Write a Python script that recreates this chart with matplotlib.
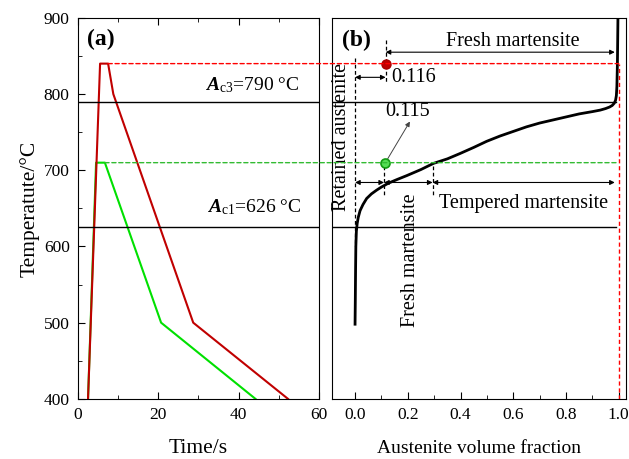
import matplotlib
matplotlib.use("Agg")
import matplotlib.pyplot as plt
from matplotlib.patches import ConnectionPatch
from matplotlib.ticker import MultipleLocator

plt.rcParams['font.family'] = ['Liberation Serif', 'DejaVu Serif']
plt.rcParams['mathtext.fontset'] = 'custom'
plt.rcParams['mathtext.rm'] = 'Liberation Serif'
plt.rcParams['mathtext.it'] = 'Liberation Serif:italic'
plt.rcParams['mathtext.bf'] = 'Liberation Serif:bold'
plt.rcParams['mathtext.bfit'] = 'Liberation Serif:bold:italic'

# (a) heat treatment paths: time (s) vs temperature (C)
red_t = [2.5, 5.5, 7.5, 8.8, 28.7, 52.3]
red_T = [400, 840, 840, 800, 500, 400]
green_t = [2.5, 4.5, 6.7, 20.7, 44.2]
green_T = [400, 710, 710, 500, 400]
ac3 = 790
ac1 = 626

# (b) austenite volume fraction vs temperature
frac = [0.0, 0.001, 0.002, 0.003, 0.005, 0.008, 0.012, 0.019, 0.03, 0.044,
        0.062, 0.082, 0.10, 0.126, 0.16, 0.196, 0.25, 0.297, 0.35, 0.398,
        0.45, 0.499, 0.55, 0.60, 0.65, 0.70, 0.75, 0.80, 0.85, 0.90,
        0.93, 0.95, 0.965, 0.975, 0.983, 0.988, 0.991, 0.993, 0.995, 0.996,
        0.997]
temp = [498, 530, 570, 600, 620, 630, 638, 647, 655, 663,
        669, 674, 678, 683, 688, 693, 701, 709, 715, 722,
        730, 738, 745, 751, 757, 762, 766, 770, 774, 777,
        779, 781, 783, 785, 788, 792, 798, 810, 840, 870,
        900]
red_pt = (0.116, 840)
green_pt = (0.115, 710)
tempered_start = 0.294

dark_red = '#c00000'
green = '#00e000'

fig = plt.figure(figsize=(6.29, 4.59), dpi=100)
ax1 = fig.add_axes([0.124, 0.131, 0.383, 0.830])
ax2 = fig.add_axes([0.528, 0.131, 0.467, 0.830])

# ---- panel (a)
ax1.plot(green_t, green_T, color=green, lw=1.5)
ax1.plot(red_t, red_T, color=dark_red, lw=1.5)
ax1.axhline(ac3, color='k', lw=1)
ax1.axhline(ac1, color='k', lw=1)
ax1.set_xlim(0, 60)
ax1.set_ylim(400, 900)
ax1.xaxis.set_major_locator(MultipleLocator(20))
ax1.xaxis.set_minor_locator(MultipleLocator(10))
ax1.yaxis.set_major_locator(MultipleLocator(100))
ax1.yaxis.set_minor_locator(MultipleLocator(50))
ax1.tick_params(which='both', direction='in', top=True, right=False, labelsize=12.5)
ax1.tick_params(which='major', length=5, pad=6)
ax1.tick_params(which='minor', length=3)
ax1.set_xlabel('Time/s', fontsize=15.5, labelpad=11.5)
ax1.set_ylabel('Temperatute/°C', fontsize=15.5, labelpad=3)
ax1.text(2.3, 872, '(a)', fontsize=17, fontweight='bold', va='center')
ax1.text(55, 812, r'$\mathbfit{A}_{\mathrm{c3}}$=790 °C', fontsize=14,
         ha='right', va='center')
ax1.text(55.5, 652, r'$\mathbfit{A}_{\mathrm{c1}}$=626 °C', fontsize=14,
         ha='right', va='center')

# ---- panel (b)
ax2.plot(frac, temp, color='k', lw=2)
ax2.plot([-0.09, 0.99], [ac3, ac3], color='k', lw=1)
ax2.plot([-0.09, 0.99], [ac1, ac1], color='k', lw=1)
ax2.plot([1.0, 1.0], [400, 840], color='red', lw=1, ls=(0, (3, 2)))
ax2.set_xlim(-0.087, 1.027)
ax2.set_ylim(400, 900)
ax2.xaxis.set_major_locator(MultipleLocator(0.2))
ax2.xaxis.set_minor_locator(MultipleLocator(0.1))
ax2.xaxis.set_major_formatter(plt.FormatStrFormatter('%.1f'))
ax2.tick_params(which='both', direction='in', left=False, labelleft=False,
                labelsize=12.5)
ax2.tick_params(which='major', length=5, pad=6)
ax2.tick_params(which='minor', length=3)
ax2.set_xlabel('Austenite volume fraction', fontsize=14, labelpad=12)

# dashed guide lines spanning both panels
for ax in (ax1, ax2):
    ax.set_zorder(1)
con = ConnectionPatch(xyA=(7.5, 840), coordsA=ax1.transData,
                      xyB=(1.0, 840), coordsB=ax2.transData,
                      color='red', lw=1, ls=(0, (3, 2)), zorder=5)
fig.add_artist(con)
con = ConnectionPatch(xyA=(6.7, 710), coordsA=ax1.transData,
                      xyB=(1.0, 710), coordsB=ax2.transData,
                      color='#33bb33', lw=1, ls=(0, (3, 2)), zorder=5)
fig.add_artist(con)

dash = dict(color='k', lw=0.9, ls=(0, (3, 2)))
ax2.plot([0, 0], [848, 600], **dash)
ax2.plot([red_pt[0], red_pt[0]], [871, 815], **dash)
ax2.plot([green_pt[0] - 0.005, green_pt[0] - 0.005], [706, 668], **dash)
ax2.plot([tempered_start, tempered_start], [706, 668], **dash)

ax2.plot(*red_pt, 'o', ms=6.5, color=dark_red, mec='#aa0000', zorder=5)
ax2.plot(*green_pt, 'o', ms=6.5, color='#55dd55', mec='#119911', mew=1.2, zorder=5)

arr = dict(arrowstyle='<|-|>', mutation_scale=7, lw=0.8, color='k',
           shrinkA=0, shrinkB=0)
ax2.annotate('', xy=(0.985, 855), xytext=(red_pt[0], 855), arrowprops=arr)
ax2.annotate('', xy=(red_pt[0], 822), xytext=(0, 822), arrowprops=arr)
ax2.annotate('', xy=(0.11, 684), xytext=(0, 684), arrowprops=arr)
ax2.annotate('', xy=(tempered_start, 684), xytext=(0.11, 684), arrowprops=arr)
ax2.annotate('', xy=(0.985, 684), xytext=(tempered_start, 684), arrowprops=arr)
ax2.annotate('', xy=(0.208, 764), xytext=green_pt,
             arrowprops=dict(arrowstyle='-|>', mutation_scale=7, lw=0.7,
                             color='#444444', shrinkA=3, shrinkB=0))

ax2.text(0.6, 869, 'Fresh martensite', fontsize=14.5, ha='center', va='center')
ax2.text(0.139, 822, '0.116', fontsize=14.5, ha='left', va='center')
ax2.text(0.114, 777, '0.115', fontsize=14.5, ha='left', va='center')
ax2.text(0.64, 657, 'Tempered martensite', fontsize=14.5, ha='center', va='center')
ax2.text(0.21, 582, 'Fresh martensite', fontsize=14.5, ha='center', va='center',
         rotation=90)
ax2.text(-0.05, 744, 'Retained austenite', fontsize=14.5, ha='center',
         va='center', rotation=90)
ax2.text(-0.05, 871, '(b)', fontsize=17, fontweight='bold', va='center')

fig.savefig('out.png', dpi=100)
